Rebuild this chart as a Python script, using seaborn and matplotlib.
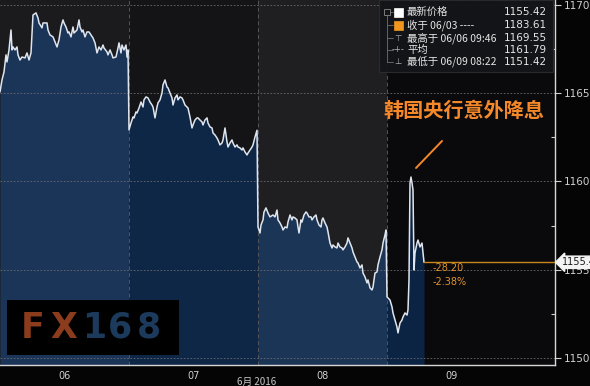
import numpy as np
import pandas as pd
import matplotlib
matplotlib.use("Agg")
import matplotlib.pyplot as plt
import seaborn as sns
from matplotlib.patches import Rectangle

# ---------------- data ----------------
day_labels = ["06", "07", "08", "09"]
bars_per_day = 129

bar_06 = [0, 2, 4, 6, 7, 9, 11, 12, 13, 15, 17, 18, 20, 22, 25, 27, 29, 31, 32, 33, 36, 38, 39, 42, 43, 47,
          48, 50, 53, 55, 57, 59, 61, 63, 64, 66, 68, 69, 71, 73, 74, 77, 79, 80, 82, 83, 85, 87, 89, 91,
          93, 95, 97, 99, 101, 103, 104, 107, 108, 110, 112, 113, 116, 118, 119, 121, 122, 124, 126, 127, 128]
px_06 = [1165.07, 1165.75, 1166.20, 1167.17, 1166.77, 1167.45, 1168.58, 1167.45, 1167.62, 1167.45, 1167.62,
         1167.17, 1166.88, 1167.05, 1167.00, 1167.28, 1166.88, 1167.28, 1168.30, 1169.43, 1169.55, 1169.26,
         1168.98, 1168.70, 1168.98, 1168.98, 1168.58, 1168.30, 1168.19, 1167.90, 1167.62, 1168.02, 1168.75,
         1169.15, 1168.98, 1168.75, 1168.41, 1168.47, 1168.19, 1168.75, 1168.41, 1168.58, 1169.15, 1168.75,
         1168.47, 1168.58, 1168.19, 1168.47, 1168.47, 1168.30, 1168.13, 1167.85, 1167.28, 1167.62, 1167.45,
         1167.73, 1167.56, 1167.34, 1167.17, 1167.45, 1167.17, 1167.00, 1167.05, 1167.56, 1167.85, 1167.28,
         1167.73, 1167.45, 1167.73, 1167.05, 1167.45]

bar_07 = [129, 131, 133, 134, 136, 137, 139, 141, 143, 144, 146, 148, 150, 152, 153, 155, 157, 158, 160, 162,
          163, 165, 167, 168, 170, 172, 173, 175, 177, 178, 180, 182, 183, 185, 187, 188, 190, 192, 193, 195,
          197, 198, 200, 202, 203, 205, 207, 208, 210, 212, 213, 215, 217, 218, 220, 222, 223, 225, 227, 228,
          230, 232, 233, 235, 237, 238, 240, 242, 243, 245, 247, 248, 250, 252, 253, 255, 257]
px_07 = [1162.92, 1163.31, 1163.65, 1163.60, 1163.94, 1163.88, 1164.16, 1164.50, 1164.22, 1164.62, 1164.79,
         1164.73, 1164.50, 1164.33, 1164.22, 1163.60, 1164.22, 1164.45, 1164.62, 1165.01, 1165.47, 1165.75,
         1165.35, 1165.30, 1165.01, 1164.73, 1164.33, 1164.73, 1164.90, 1164.62, 1164.79, 1164.73, 1164.62,
         1164.33, 1164.22, 1164.16, 1163.65, 1163.03, 1163.20, 1163.48, 1163.60, 1163.60, 1163.48, 1163.37,
         1163.20, 1163.48, 1163.60, 1163.31, 1163.09, 1163.03, 1162.75, 1162.63, 1162.46, 1162.35, 1162.07,
         1162.18, 1162.35, 1163.03, 1162.24, 1161.95, 1162.18, 1162.35, 1162.18, 1161.95, 1162.07, 1161.95,
         1161.90, 1161.78, 1161.90, 1161.67, 1161.50, 1161.61, 1161.78, 1161.95, 1162.07, 1162.52, 1162.90]

bar_08 = [258, 260, 261, 263, 264, 266, 268, 270, 273, 275, 277, 278, 280, 282, 283, 285, 287, 288, 290, 292,
          293, 295, 297, 298, 299, 301, 302, 304, 306, 307, 309, 311, 312, 314, 316, 317, 319, 321, 322, 323,
          325, 327, 328, 330, 332, 333, 335, 337, 338, 340, 342, 343, 345, 347, 348, 350, 352, 353, 355, 357,
          358, 360, 362, 363, 365, 367, 368, 370, 372, 373, 375, 377, 378, 380, 382, 383, 385, 386]
px_08 = [1157.42, 1157.08, 1157.53, 1157.82, 1158.27, 1158.50, 1158.21, 1157.99, 1158.10, 1157.99, 1158.38,
         1157.82, 1157.65, 1157.42, 1157.25, 1157.42, 1157.37, 1157.70, 1158.10, 1157.82, 1157.99, 1157.93,
         1157.82, 1157.42, 1157.08, 1157.82, 1157.70, 1158.10, 1158.27, 1158.21, 1157.99, 1157.99, 1157.82,
         1157.99, 1158.10, 1157.82, 1157.53, 1157.42, 1157.82, 1157.93, 1157.65, 1157.42, 1157.14, 1156.51,
         1156.23, 1156.40, 1156.29, 1156.23, 1156.51, 1156.29, 1156.23, 1156.12, 1156.29, 1156.51, 1156.80,
         1156.51, 1156.23, 1156.00, 1155.72, 1155.44, 1155.38, 1155.10, 1155.27, 1154.81, 1154.59, 1154.25,
         1154.42, 1153.97, 1153.85, 1154.02, 1154.81, 1154.87, 1155.27, 1155.72, 1156.12, 1156.51, 1156.97,
         1157.25]

bar_09 = [387, 390, 392, 393, 395, 397, 398, 400, 402, 403, 405, 407, 408, 409, 410, 411, 412, 413, 414, 415,
          417, 418, 420, 422, 423, 424]
px_09 = [1153.46, 1153.28, 1152.89, 1152.55, 1152.15, 1151.75, 1151.42, 1151.98, 1152.15, 1152.32, 1152.55,
         1152.43, 1152.72, 1154.42, 1159.91, 1160.25, 1159.91, 1159.52, 1154.98, 1155.95, 1156.51, 1156.68,
         1156.29, 1156.51, 1155.95, 1155.42]

y_ticks = [1150, 1155, 1160, 1165, 1170]
last_price = 1155.42
change_abs = "-28.20"
change_pct = "-2.38%"
legend_names = ["最新价格", "收于 06/03 ----", "最高于 06/06 09:46", "平均", "最低于 06/09 08:22"]
legend_values = ["1155.42", "1183.61", "1169.55", "1161.79", "1151.42"]
annotation = "韩国央行意外降息"
x_caption = "6月 2016"
logo_chars = ["F", "X", "1", "6", "8"]

# ---------------- styling ----------------
sns.set_style("dark")
plt.rcParams["font.family"] = ["Noto Sans CJK SC", "DejaVu Sans"]

W, H = 590, 386
fig = plt.figure(figsize=(W / 100, H / 100), dpi=100, facecolor="#050505")
ax = fig.add_axes([0, 1 - 365 / H, 555 / W, 365 / H])
ax.set_facecolor("#0a0a0c")

days = [bar_06, bar_07, bar_08, bar_09]
prices = [px_06, px_07, px_08, px_09]
frames = []
for lbl, b, p in zip(day_labels, days, prices):
    frames.append(pd.DataFrame({"bar": b, "price": p, "day": lbl}))
df = pd.concat(frames, ignore_index=True)

ymin, ymax = 1149.60, 1170.28
xmax = 555
ax.set_xlim(0, xmax)
ax.set_ylim(ymin, ymax)

bg_cols = ["#1b1b1d", "#141416", "#1f1f21", "#0a0a0c"]
fill_cols = ["#1a3557", "#0e2747", "#1b3556", "#0c2444"]
for i in range(4):
    x0 = i * bars_per_day
    x1 = (i + 1) * bars_per_day if i < 3 else xmax
    ax.axvspan(x0, x1, color=bg_cols[i], zorder=0, lw=0)

for i, lbl in enumerate(day_labels):
    sub = df[df.day == lbl]
    xs = list(sub.bar)
    ys = list(sub.price)
    if i < 3:
        nxt = df[df.day == day_labels[i + 1]].bar.iloc[0]
        xs.append(nxt)
        ys.append(ys[-1])
    ax.fill_between(xs, ymin, ys, color=fill_cols[i], lw=0, zorder=1)

sns.lineplot(data=df, x="bar", y="price", estimator=None, sort=False, color="#dfe5ee",
             lw=1.1, ax=ax, zorder=3, legend=False)

# grids
for t in y_ticks:
    ax.axhline(t, color="#6a6a70", lw=0.6, ls=(0, (2, 2)), zorder=2)
for i in range(1, 4):
    ax.axvline(i * bars_per_day, color="#55555a", lw=0.7, ls=(0, (4, 3)), zorder=2)

# last price line
ax.plot([df.bar.iloc[-1], xmax], [last_price, last_price], color="#c8861e", lw=1.0, zorder=4)
ax.text(433 / 555, 1 - 268 / 365, change_abs, transform=ax.transAxes, color="#e0922e",
        fontsize=7, va="center", ha="left", family=["DejaVu Sans"])
ax.text(433 / 555, 1 - 282 / 365, change_pct, transform=ax.transAxes, color="#e0922e",
        fontsize=7, va="center", ha="left", family=["DejaVu Sans"])

# axes / ticks
for s in ["top", "left"]:
    ax.spines[s].set_visible(False)
for s in ["right", "bottom"]:
    ax.spines[s].set_visible(True)
    ax.spines[s].set_color("#d8d8d8")
    ax.spines[s].set_linewidth(1.0)
ax.yaxis.tick_right()
ax.set_yticks(y_ticks)
ax.set_yticklabels([str(t) for t in y_ticks], family=["DejaVu Sans"])
ax.set_yticks([t + 2.5 for t in y_ticks[:-1]], minor=True)
ax.tick_params(axis="y", which="major", colors="#d0d0d0", labelsize=7.5, length=4, width=0.8,
               direction="out", pad=2, right=True, left=False)
ax.tick_params(axis="y", which="minor", color="#d0d0d0", length=3, width=0.8, direction="in",
               right=True, left=False)
ax.set_xticks([i * bars_per_day + bars_per_day / 2 for i in range(4)])
ax.set_xticklabels(day_labels, family=["DejaVu Sans"])
ax.tick_params(axis="x", colors="#d0d0d0", labelsize=7, length=0, pad=4)
ax.set_xlabel("")
ax.set_ylabel("")
ax.grid(False)

fig.text(237 / W, 1 - 382 / H, x_caption, color="#c8c8c8", fontsize=7, ha="left", va="center")

# right price tag
ax.annotate(f"{last_price:.1f}", xy=(1.0, last_price), xycoords=("axes fraction", "data"),
            xytext=(5, 0), textcoords="offset points", va="center", ha="left", fontsize=7,
            color="#1a1a1a", family=["DejaVu Sans"],
            bbox=dict(boxstyle="larrow,pad=0.12", fc="#f4f4f4", ec="#f4f4f4"), annotation_clip=False,
            zorder=6)

# annotation
ax.text(464 / 555, 1 - 110 / 365, annotation, transform=ax.transAxes, color="#f5892a",
        fontsize=14.5, fontweight="bold", ha="center", va="center", zorder=6)
ax.plot([416 / 555, 442 / 555], [1 - 168 / 365, 1 - 141 / 365], transform=ax.transAxes,
        color="#f5892a", lw=1.4, zorder=6)

# legend box (in figure pixels)
def fx(px):
    return px / W

def fy(py):
    return 1 - py / H

fig.patches.append(Rectangle((fx(379), fy(72)), (553 - 379) / W, 72 / H, transform=fig.transFigure,
                             fc="#141519", ec="#2c2c30", lw=0.8, alpha=0.95, zorder=5))
rows = [12, 25, 38, 50, 62]
fig.lines.append(plt.Line2D([fx(387), fx(387)], [fy(12), fy(62)], transform=fig.transFigure,
                            color="#707070", lw=0.6, zorder=6))
for ry in rows:
    fig.lines.append(plt.Line2D([fx(387), fx(393)], [fy(ry), fy(ry)], transform=fig.transFigure,
                                color="#707070", lw=0.6, zorder=6))
fig.patches.append(Rectangle((fx(384), fy(15)), 6 / W, 6 / H, transform=fig.transFigure,
                             fc="#141519", ec="#8a8a8a", lw=0.6, zorder=7))
fig.patches.append(Rectangle((fx(394), fy(17)), 9 / W, 9 / H, transform=fig.transFigure,
                             fc="#ffffff", ec="#ffffff", lw=0.5, zorder=7))
fig.patches.append(Rectangle((fx(394), fy(30)), 9 / W, 9 / H, transform=fig.transFigure,
                             fc="#f0961e", ec="#f0961e", lw=0.5, zorder=7))
symbols = [None, None, "⊤", "-+-", "⊥"]
for ry, sym in zip(rows, symbols):
    if sym:
        fig.text(fx(398), fy(ry), sym, color="#b0b0b0", fontsize=6, ha="center", va="center",
                 family=["DejaVu Sans"], zorder=8)
for ry, name, val in zip(rows, legend_names, legend_values):
    fig.text(fx(407), fy(ry), name, color="#e6e6e6", fontsize=7.5, ha="left", va="center", zorder=8)
    fig.text(fx(547), fy(ry), val, color="#e6e6e6", fontsize=7.5, ha="right", va="center",
             family=["DejaVu Sans"], zorder=8)

# FX168 logo
fig.patches.append(Rectangle((fx(7), fy(355)), (179 - 7) / W, (355 - 300) / H, transform=fig.transFigure,
                             fc="#000000", ec="none", zorder=5))
logo_x = [33, 64, 94, 120, 149]
logo_c = ["#8b3c1c", "#8b3c1c", "#1c3a5c", "#1c3a5c", "#1c3a5c"]
for ch, lx, lc in zip(logo_chars, logo_x, logo_c):
    fig.text(fx(lx), fy(328), ch, color=lc, fontsize=25, fontweight="bold", ha="center",
             va="center", family=["DejaVu Sans"], zorder=6)

fig.savefig("out.png", dpi=100, facecolor=fig.get_facecolor())
